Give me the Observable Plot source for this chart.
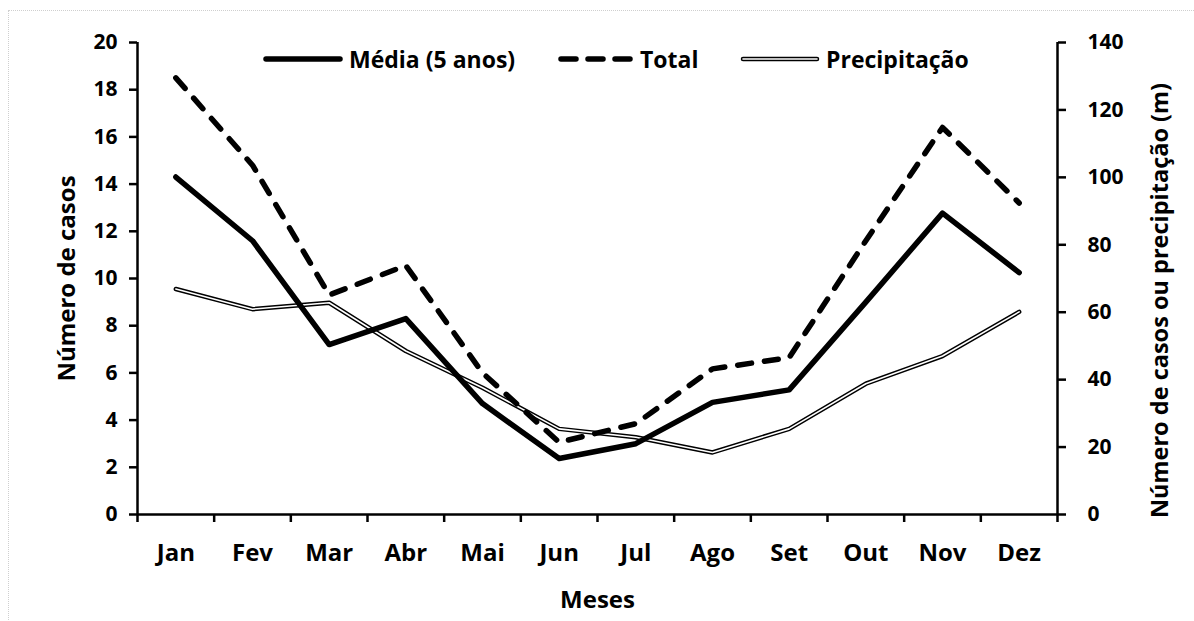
<!DOCTYPE html>
<html>
<head>
<meta charset="utf-8">
<script src="https://cdn.jsdelivr.net/npm/d3@7"></script>
<script src="https://cdn.jsdelivr.net/npm/@observablehq/plot@0.6"></script>
<style>
  html, body { margin: 0; padding: 0; background: #fff; }
  #wrap { position: relative; width: 1194px; height: 621px; overflow: hidden; font-family: "Open Sans", sans-serif; font-weight: 700; }
  #frame { position: absolute; left: 8px; top: 10px; width: 1200px; height: 640px; border-left: 1px dotted #cfcfcf; border-top: 1px dotted #cfcfcf; box-sizing: border-box; }
  #legend { position: absolute; top: 43px; left: 0; height: 32px; width: 1194px; font-size: 23px; color: #000; }
  .item { position: absolute; top: 0; display: flex; align-items: center; height: 32px; white-space: nowrap; }
  .item svg { margin-right: 6px; }
</style>
</head>
<body>
<div id="wrap">
  <div id="frame"></div>
  <div id="chart"></div>
  <div id="legend"></div>
</div>
<script>
const months = ["Jan","Fev","Mar","Abr","Mai","Jun","Jul","Ago","Set","Out","Nov","Dez"];
const media = [14.3, 11.6, 7.2, 8.3, 4.7, 2.37, 3.0, 4.75, 5.28, 9.0, 12.77, 10.25];
const total = [18.5, 14.8, 9.3, 10.55, 6.0, 3.06, 3.85, 6.17, 6.65, 11.6, 16.4, 13.2];
const precip = [66.9, 60.9, 62.8, 48.5, 37.6, 25.4, 22.9, 18.4, 25.4, 38.8, 47.0, 60.1];
const leftTicks = [0, 2, 4, 6, 8, 10, 12, 14, 16, 18, 20];
const rightTicks = [0, 20, 40, 60, 80, 100, 120, 140];
const ratio = 7; // right axis max 140 / left axis max 20

const rows = months.map((m, i) => ({i, m, media: media[i], total: total[i], precip: precip[i]}));
const idx = months.map((_, i) => i);
const bounds = d3.range(months.length + 1).map(k => k - 0.5);

const chart = Plot.plot({
  width: 1194,
  height: 621,
  marginLeft: 137,
  marginRight: 137,
  marginTop: 42,
  marginBottom: 107,
  style: {fontFamily: "'Open Sans', sans-serif", fontWeight: 700, color: "#000", background: "transparent", overflow: "visible"},
  x: {type: "linear", domain: [-0.5, months.length - 0.5]},
  y: {domain: [0, 20]},
  marks: [
    // axes
    Plot.axisY({ticks: leftTicks, tickSize: 8, tickPadding: 12, strokeWidth: 2.5, fontSize: 21, label: null}),
    Plot.axisY({anchor: "right", ticks: rightTicks.map(v => v / ratio), tickFormat: d => Math.round(d * ratio), tickSize: 8, tickPadding: 22, strokeWidth: 2.5, fontSize: 21, label: null}),
    Plot.axisX({ticks: idx, tickFormat: i => months[i], tickSize: 0, tickPadding: 29, fontSize: 24, label: null}),
    Plot.axisX({ticks: bounds, tickFormat: () => "", tickSize: 8, strokeWidth: 2.5, label: null}),
    Plot.ruleX([-0.5, months.length - 0.5], {stroke: "#000", strokeWidth: 2.5}),
    Plot.ruleY([0], {stroke: "#000", strokeWidth: 2.5}),
    // titles
    Plot.text(["Número de casos"], {frameAnchor: "left", dx: -70, rotate: -90, textAnchor: "middle", lineAnchor: "middle", fontSize: 24, fontWeight: 700, fill: "#000"}),
    Plot.text(["Número de casos ou precipitação (m)"], {frameAnchor: "right", dx: 103, dy: 22, rotate: -90, textAnchor: "middle", lineAnchor: "middle", fontSize: 23.5, fontWeight: 700, fill: "#000"}),
    Plot.text(["Meses"], {frameAnchor: "bottom", dy: 86, textAnchor: "middle", lineAnchor: "middle", fontSize: 24, fontWeight: 700, fill: "#000"}),
    // precipitation: double line (black outline, white core)
    Plot.line(rows, {x: "i", y: d => d.precip / ratio, stroke: "#000", strokeWidth: 4.5, strokeLinejoin: "round", strokeLinecap: "round"}),
    Plot.line(rows, {x: "i", y: d => d.precip / ratio, stroke: "#fff", strokeWidth: 1.6, strokeLinejoin: "round", strokeLinecap: "round"}),
    // total dashed
    Plot.line(rows, {x: "i", y: "total", stroke: "#000", strokeWidth: 5.5, strokeDasharray: "14,13", strokeLinecap: "round", strokeLinejoin: "round"}),
    // media solid
    Plot.line(rows, {x: "i", y: "media", stroke: "#000", strokeWidth: 5.5, strokeLinejoin: "round", strokeLinecap: "round"})
  ]
});
document.getElementById("chart").appendChild(chart);

// legend
const legendItems = [
  {label: "Média (5 anos)", left: 263, type: "solid"},
  {label: "Total", left: 558, type: "dash"},
  {label: "Precipitação", left: 740, type: "double"}
];
const legend = document.getElementById("legend");
for (const it of legendItems) {
  const div = document.createElement("div");
  div.className = "item";
  div.style.left = it.left + "px";
  const w = it.type === "dash" ? 76 : 80;
  let sw = `<svg width="${w}" height="12" viewBox="0 0 ${w} 12">`;
  if (it.type === "solid") sw += `<line x1="3" y1="6" x2="${w-3}" y2="6" stroke="#000" stroke-width="5.5" stroke-linecap="round"/>`;
  if (it.type === "dash") sw += `<line x1="3" y1="6" x2="${w-3}" y2="6" stroke="#000" stroke-width="5.5" stroke-dasharray="15,12" stroke-linecap="round"/>`;
  if (it.type === "double") sw += `<line x1="3" y1="6" x2="${w-3}" y2="6" stroke="#000" stroke-width="4.5" stroke-linecap="round"/><line x1="3" y1="6" x2="${w-3}" y2="6" stroke="#fff" stroke-width="1.6" stroke-linecap="round"/>`;
  sw += `</svg>`;
  div.innerHTML = sw + `<span>${it.label}</span>`;
  legend.appendChild(div);
}
</script>
</body>
</html>
